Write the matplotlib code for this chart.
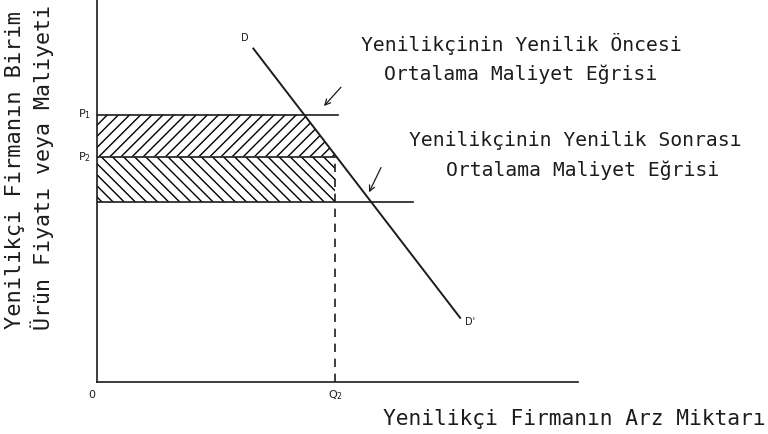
import matplotlib.pyplot as plt
import numpy as np

# diagram values (axis units 0-10)
P1 = 7.0          # pre-innovation average cost / price
P2 = 5.9          # price after innovation
AC2 = 4.7         # post-innovation average cost
Q2 = 4.95         # quantity supplied
ac1_end = 5.0     # where the P1 cost line stops
ac2_end = 6.57    # where the lower cost line stops
D_q = [3.25, 7.55]   # demand line D -> D'
D_p = [8.73, 1.68]

ink = '#1c1c1c'
mono = 'DejaVu Sans Mono'

def q_on_demand(p):
    slope = (D_p[1] - D_p[0]) / (D_q[1] - D_q[0])
    return D_q[0] + (p - D_p[0]) / slope

plt.rcParams['hatch.linewidth'] = 1.0
plt.rcParams['hatch.color'] = ink

fig = plt.figure(figsize=(7.68, 4.34), dpi=100)
ax = fig.add_axes([97 / 768, 52 / 434, (578 - 97) / 768, 382 / 434])
ax.set_xlim(0, 10)
ax.set_ylim(0, 10)
for s in ['top', 'right']:
    ax.spines[s].set_visible(False)
for s in ['left', 'bottom']:
    ax.spines[s].set_color(ink)
    ax.spines[s].set_linewidth(1.2)
ax.set_xticks([])
ax.set_yticks([])

# hatched areas
upper = [(0, P1), (q_on_demand(P1), P1), (q_on_demand(P2), P2), (0, P2)]
lower = [(0, P2), (Q2, P2), (Q2, AC2), (0, AC2)]
ax.add_patch(plt.Polygon(upper, closed=True, fill=False, hatch='///', linewidth=0))
ax.add_patch(plt.Polygon(lower, closed=True, fill=False, hatch='\\\\\\', linewidth=0))

# cost lines, demand and Q2 guide
ax.plot([0, ac1_end], [P1, P1], color=ink, lw=1.2)
ax.plot([0, Q2], [P2, P2], color=ink, lw=1.2)
ax.plot([0, ac2_end], [AC2, AC2], color=ink, lw=1.2)
ax.plot(D_q, D_p, color=ink, lw=1.4)
ax.plot([Q2, Q2], [0, P2], color=ink, lw=1.2, linestyle=(0, (5, 4)))

# small labels
ax.text(-0.25, P1, 'P$_1$', fontsize=8, ha='center', va='center', color=ink)
ax.text(-0.25, P2, 'P$_2$', fontsize=8, ha='center', va='center', color=ink)
ax.text(-0.1, -0.34, '0', fontsize=8, ha='center', va='center', color=ink)
ax.text(Q2, -0.34, 'Q$_2$', fontsize=8, ha='center', va='center', color=ink)
ax.text(D_q[0] - 0.17, D_p[0] + 0.27, 'D', fontsize=7, ha='center', va='center', color=ink)
ax.text(D_q[1] + 0.2, D_p[1] - 0.11, "D'", fontsize=7, ha='center', va='center', color=ink)

# arrows pointing at the cost curves
ax.annotate('', xy=(4.68, 7.17), xytext=(5.11, 7.77),
            arrowprops=dict(arrowstyle='->', color=ink, lw=0.9))
ax.annotate('', xy=(5.63, 4.9), xytext=(5.93, 5.68),
            arrowprops=dict(arrowstyle='->', color=ink, lw=0.9))

# annotation texts
W, H = 768, 434
def ftext(x, y, s, size, **kw):
    fig.text(x / W, 1 - y / H, s, fontsize=size, family=mono, color=ink,
             ha='center', va='center', **kw)

ftext(521, 44, 'Yenilikçinin Yenilik Öncesi', 14.2)
ftext(521, 74, 'Ortalama Maliyet Eğrisi', 14.2)
ftext(575, 141, 'Yenilikçinin Yenilik Sonrası', 14.2)
ftext(583, 170, 'Ortalama Maliyet Eğrisi', 14.2)
ftext(574, 419, 'Yenilikçi Firmanın Arz Miktarı', 15.3)
ftext(15, 170, 'Yenilikçi Firmanın Birim', 15.8, rotation=90)
ftext(42, 168, 'Ürün Fiyatı veya Maliyeti', 15.6, rotation=90)

fig.savefig('out.png', dpi=100, facecolor='white')
